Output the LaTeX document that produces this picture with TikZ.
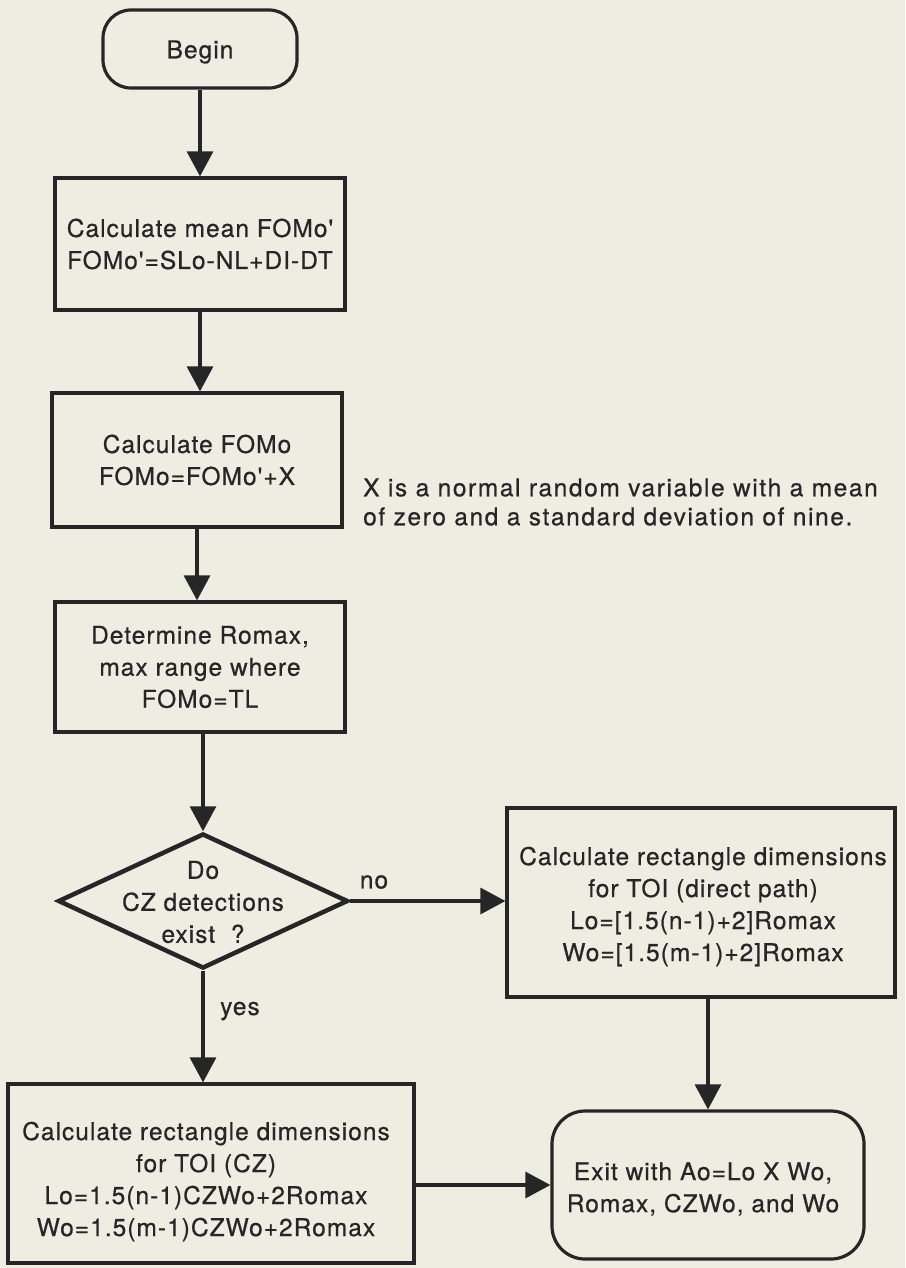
\documentclass[tikz,border=0pt]{standalone}
\usepackage{fontspec}
\setmainfont{TeX Gyre Heros}[LetterSpace=4.2, Ligatures=TeXOff, FakeBold=0.6]
\newfontfamily\notefont{TeX Gyre Heros}[LetterSpace=6.5, Ligatures=TeXOff, FakeBold=0.6]
\usetikzlibrary{arrows.meta,shapes.geometric}
\definecolor{paper}{RGB}{238,237,226}
\definecolor{ink}{RGB}{38,38,38}
\begin{document}
\begin{tikzpicture}[x=1pt,y=-1pt,
  every node/.style={font=\fontsize{24.5}{32}\selectfont, text=ink},
  box/.style={draw=ink, line width=3.2pt, rectangle, inner sep=0pt, align=center},
  term/.style={draw=ink, line width=3.2pt, rectangle, rounded corners=28pt, inner sep=0pt, align=center},
  dia/.style={draw=ink, line width=4.5pt, diamond, inner sep=0pt},
  arr/.style={draw=ink, line width=3.2pt, -{Triangle[length=25pt,width=26pt]}},
  txt/.style={align=center, inner sep=0pt},
  lbl/.style={inner sep=0pt}
]
\fill[paper] (0,0) rectangle (905,1268);
\useasboundingbox (0,0) rectangle (905,1268);

\node[term, minimum width=194pt, minimum height=78pt] (begin) at (200,49) {};
\node[txt] (begintext) at ([yshift=-3pt]begin.center) {Begin};
\node[box, minimum width=290pt, minimum height=132pt] (b1) at (200,244) {Calculate mean FOMo'\\FOMo'=SLo-NL+DI-DT};
\node[box, minimum width=290pt, minimum height=134pt] (b2) at (197,460) {Calculate FOMo\\FOMo=FOMo'+X};
\node[box, minimum width=290pt, minimum height=130pt] (b3) at (200,667) {Determine Romax,\\max range where\\FOMo=TL};
\node[dia, minimum width=290pt, minimum height=135pt] (dec) at (203,901) {};
\node[txt] (dectext) at (203,902) {Do\\CZ detections\\exist\ \ ?};
\node[box, minimum width=388pt, minimum height=189pt] (direct) at (701,902.5) {};
\node[txt] (directtext) at ([xshift=2pt,yshift=-4pt]direct.center) {Calculate rectangle dimensions\\for TOI (direct path)\\Lo=[1.5(n-1)+2]Romax\\Wo=[1.5(m-1)+2]Romax};
\node[box, minimum width=406pt, minimum height=179pt] (cz) at (211,1173.5) {};
\node[txt] (cztext) at ([xshift=-5pt,yshift=-8pt]cz.center) {Calculate rectangle dimensions\\for TOI (CZ)\\Lo=1.5(n-1)CZWo+2Romax\\Wo=1.5(m-1)CZWo+2Romax};
\node[term, rounded corners=33pt, minimum width=312pt, minimum height=148pt] (exit) at (708,1185) {};
\node[txt] (exittext) at ([xshift=-5pt,yshift=-4pt]exit.center) {Exit with Ao=Lo X Wo,\\ Romax, CZWo, and Wo};

\node[anchor=west, align=left, inner sep=0pt, font=\notefont\fontsize{24.5}{29}\selectfont] (note) at (363,502) {X is a normal random variable with a mean\\of zero and a standard deviation of nine.};

\node[lbl] (no) at (374,882) {no};
\node[lbl] (yes) at (240,1011) {yes};

\draw[arr] (begin.south) -- (begin.south |- b1.north);
\draw[arr] (b1.south) -- (b1.south |- b2.north);
\draw[arr] (b2.south) -- (b2.south |- b3.north);
\draw[arr] (b3.south -| dec.north) -- (dec.north);
\draw[arr] (dec.east) -- (dec.east -| direct.west);
\draw[arr] (dec.south) -- (dec.south |- cz.north);
\draw[arr] (cz.east |- exit.west) -- (exit.west);
\draw[arr] (exit.north |- direct.south) -- (exit.north);
\end{tikzpicture}
\end{document}
